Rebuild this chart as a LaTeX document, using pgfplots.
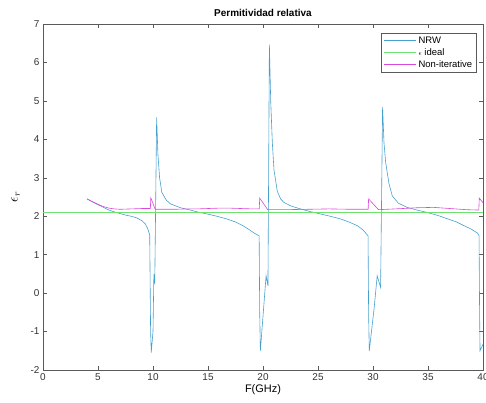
\documentclass[border=0pt]{standalone}
\usepackage{pgfplots}
\pgfplotsset{compat=1.18}
\usepackage{fontspec}
\setmainfont{Liberation Sans}
\usetikzlibrary{calc}
\definecolor{nrw}{RGB}{70,160,205}
\definecolor{ideal}{RGB}{110,225,110}
\definecolor{noniter}{RGB}{220,70,220}
\definecolor{axgray}{RGB}{90,90,90}
\begin{document}
\begin{tikzpicture}
\begin{axis}[
  name=ax,
  scale only axis,
  width=440bp, height=346bp,
  xmin=0, xmax=40, ymin=-2, ymax=7,
  xtick={0,5,...,40}, ytick={-2,-1,...,7},
  tick align=inside,
  major tick length=4bp,
  axis line style={axgray, line width=0.5pt},
  every tick/.style={axgray, line width=0.5pt},
  tick label style={font=\fontsize{10}{12}\selectfont, text=black!80},
  /pgf/number format/assume math mode=true,
  xlabel={F(GHz)},
  ylabel={$\epsilon_{r}$},
  xlabel style={font=\fontsize{11}{13}\selectfont, yshift=3bp},
  ylabel style={font=\fontsize{14}{16}\selectfont, yshift=4bp},
  title={\textbf{Permitividad relativa}},
  title style={font=\fontsize{10}{12}\selectfont, yshift=-2bp},
  legend cell align=left,
  legend style={at={(0.985,0.975)}, anchor=north east, draw=axgray, line width=0.5pt,
    font=\fontsize{9.5}{11}\selectfont, inner sep=2pt, row sep=-0.5pt},
  legend image code/.code={\draw[#1, line width=0.8pt] (0bp,0bp) -- (32bp,0bp);},
]
\addplot[color=nrw, line width=0.6pt] coordinates {
(4.0,2.45) (4.5,2.37) (5.0,2.30) (5.5,2.23) (6.0,2.16) (6.5,2.11) (7.0,2.07) (7.5,2.03)
(8.0,2.00) (8.5,1.96) (9.0,1.88) (9.3,1.80) (9.5,1.69) (9.7,1.52)
(9.78,-0.95) (9.84,-1.55) (10.0,-1.0) (10.08,0.5) (10.16,0.25) (10.33,4.57)
(10.45,3.6) (10.6,3.0) (10.8,2.62) (11.2,2.42) (11.6,2.32) (12.5,2.22) (13.4,2.16) (14.2,2.10)
(14.9,2.06) (15.8,2.00) (16.7,1.93) (17.5,1.85) (18.2,1.75) (18.8,1.64) (19.2,1.56) (19.65,1.49)
(19.7,-0.5) (19.76,-1.50) (20.28,0.45) (20.45,0.19) (20.58,6.46)
(20.7,5.0) (20.85,3.9) (21.0,3.2) (21.3,2.65) (21.6,2.45) (21.9,2.36) (22.5,2.27) (23.4,2.19) (24.3,2.12) (25.2,2.06)
(26.1,2.00) (27.05,1.93) (27.9,1.84) (28.6,1.75) (29.1,1.64) (29.55,1.49)
(29.6,-0.5) (29.66,-1.50) (30.1,-0.4) (30.38,0.45) (30.69,0.15) (30.87,4.84)
(31.0,3.9) (31.15,3.4) (31.45,2.85) (31.75,2.53) (32.3,2.34) (33.1,2.23) (34.0,2.16) (34.9,2.10)
(35.9,2.02) (36.8,1.93) (37.6,1.85) (38.3,1.75) (38.9,1.67) (39.5,1.56) (39.64,1.49)
(39.69,-0.5) (39.73,-1.50) (40.0,-1.33)
};
\addlegendentry{NRW}
\addplot[color=ideal, line width=0.6pt] coordinates {(0,2.1) (40,2.1)};
\addlegendentry{$\scriptstyle\epsilon$ ideal}
\addplot[color=noniter, line width=0.6pt] coordinates {
(4.0,2.45) (4.5,2.38) (5.0,2.31) (5.5,2.25) (6.0,2.21) (6.5,2.19) (7.0,2.18) (8.0,2.19)
(9.0,2.20) (9.76,2.20) (9.8,2.48) (10.2,2.18) (11,2.18) (12,2.18) (13,2.19) (14,2.19)
(15,2.20) (16,2.21) (17,2.21) (18,2.20) (19,2.19) (19.66,2.19) (19.7,2.47) (20.43,2.17)
(22,2.17) (24,2.18) (26,2.19) (28,2.18) (29.56,2.18) (29.6,2.45) (30.5,2.17) (32,2.19)
(34,2.22) (35.5,2.23) (37,2.20) (38.5,2.17) (39.62,2.16) (39.66,2.47) (40,2.35)
};
\addlegendentry{Non-iterative}
\end{axis}
\pgfresetboundingbox
\path ($(ax.south west)+(-43bp,-33bp)$) rectangle ($(ax.north east)+(3bp,24bp)$);
\end{tikzpicture}
\end{document}
